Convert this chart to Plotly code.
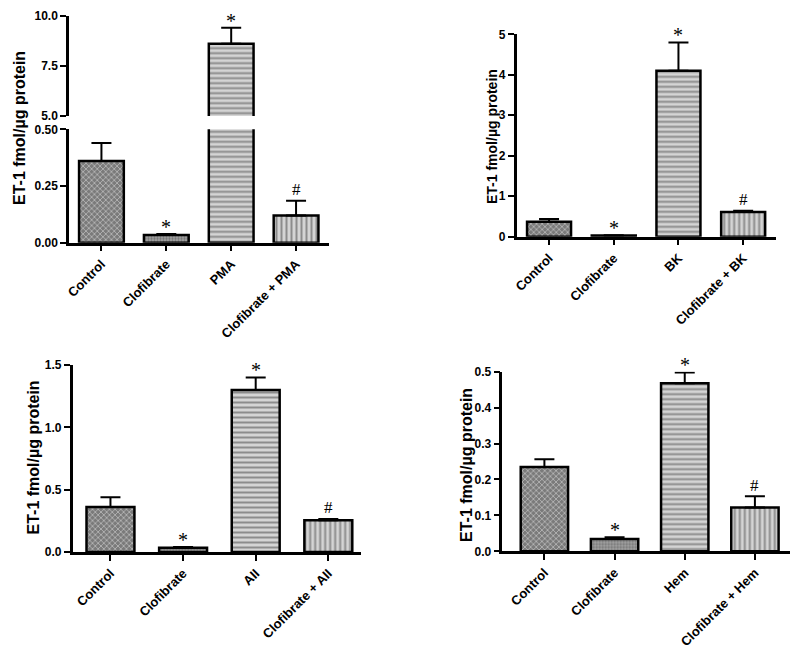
import plotly.graph_objects as go

W, H = 799, 653

# ---------------- data ----------------
cat_pma = ["Control", "Clofibrate", "PMA", "Clofibrate + PMA"]
val_pma = [0.36, 0.034, 8.6, 0.12]
err_pma = [0.08, 0.004, 0.8, 0.065]
sig_pma = ["", "*", "*", "#"]

cat_bk = ["Control", "Clofibrate", "BK", "Clofibrate + BK"]
val_bk = [0.37, 0.03, 4.1, 0.61]
err_bk = [0.07, 0.005, 0.7, 0.03]
sig_bk = ["", "*", "*", "#"]

cat_aii = ["Control", "Clofibrate", "AII", "Clofibrate + AII"]
val_aii = [0.36, 0.035, 1.30, 0.254]
err_aii = [0.08, 0.005, 0.10, 0.011]
sig_aii = ["", "*", "*", "#"]

cat_hem = ["Control", "Clofibrate", "Hem", "Clofibrate + Hem"]
val_hem = [0.235, 0.034, 0.468, 0.122]
err_hem = [0.021, 0.005, 0.030, 0.031]
sig_hem = ["", "*", "*", "#"]

ytitle = "ET-1 fmol/µg protein"

# ---------------- styles ----------------
pat_shape = ["x", ".", "-", "|"]
pat_bg = ["#7a7a7a", "#a4a4a4", "#d4d4d4", "#d4d4d4"]
pat_fg = ["#5e5e5e", "#6a6a6a", "#b4b4b4", "#b4b4b4"]
pat_size = [4, 3, 5, 5]
pat_sol = [0.35, 0.45, 0.4, 0.4]

FONT = "Liberation Sans"


def px_x(p):
    return p / W


def px_y(p):
    return 1 - p / H


fig = go.Figure()


def add_bars(cats, vals, errs, xa, ya, width):
    fig.add_trace(go.Bar(
        x=cats, y=vals, xaxis=xa, yaxis=ya, width=width,
        marker=dict(
            color=pat_bg,
            line=dict(color="black", width=2.5),
            pattern=dict(shape=pat_shape, fgcolor=pat_fg,
                         size=pat_size, solidity=pat_sol, fillmode="overlay"),
        ),
        error_y=dict(type="data", symmetric=False, array=errs,
                     arrayminus=[0] * len(errs), color="black",
                     thickness=2, width=10),
        showlegend=False, hoverinfo="skip",
    ))


def add_sigs(cats, vals, errs, sigs, xa, ya, only=None):
    for i, (c, v, e, s) in enumerate(zip(cats, vals, errs, sigs)):
        if not s:
            continue
        if only is not None and i not in only:
            continue
        star = s == "*"
        fig.add_annotation(
            x=c, y=v + e, xref=xa, yref=ya, text=s, showarrow=False,
            yanchor="middle", yshift=7 if star else 11,
            font=dict(family="Liberation Serif", size=20 if star else 17,
                      color="black"),
        )


# Panel A (broken axis): bottom y, top y2 share x
add_bars(cat_pma, val_pma, err_pma, "x", "y", 0.69)
add_bars(cat_pma, val_pma, err_pma, "x", "y2", 0.69)
add_sigs(cat_pma, val_pma, err_pma, sig_pma, "x", "y", only=[1, 3])
add_sigs(cat_pma, val_pma, err_pma, sig_pma, "x", "y2", only=[2])

# Panel B
add_bars(cat_bk, val_bk, err_bk, "x2", "y3", 0.68)
add_sigs(cat_bk, val_bk, err_bk, sig_bk, "x2", "y3")

# Panel C
add_bars(cat_aii, val_aii, err_aii, "x3", "y4", 0.66)
add_sigs(cat_aii, val_aii, err_aii, sig_aii, "x3", "y4")

# Panel D
add_bars(cat_hem, val_hem, err_hem, "x4", "y5", 0.675)
add_sigs(cat_hem, val_hem, err_hem, sig_hem, "x4", "y5")

tickf = dict(family=FONT, size=13, color="black", weight="bold")


def xax(dom, anchor, rng):
    return dict(domain=dom, anchor=anchor, range=rng, showline=True,
                linecolor="black", linewidth=2.5, ticks="outside",
                ticklen=6, tickwidth=2, tickcolor="black", tickangle=-45,
                tickfont=tickf, showgrid=False, zeroline=False,
                automargin=False, fixedrange=True)


def yax(dom, anchor, rng, dtick, fmt, size=12):
    return dict(domain=dom, anchor=anchor, range=rng, showline=True,
                linecolor="black", linewidth=2.5, ticks="outside",
                ticklen=6, tickwidth=2, tickcolor="black", dtick=dtick,
                tick0=0, tickformat=fmt, showgrid=False, zeroline=False,
                tickfont=dict(family=FONT, size=size, color="black",
                              weight="bold"),
                automargin=False, fixedrange=True)


fig.update_layout(
    width=W, height=H,
    margin=dict(l=0, r=0, t=0, b=0),
    paper_bgcolor="white", plot_bgcolor="white",
    barmode="group",
    xaxis=xax([px_x(69), px_x(328.5)], "y", [-0.5, 3.5]),
    yaxis=yax([px_y(242.7), px_y(129.3)], "x", [0, 0.5], 0.25, ".2f"),
    yaxis2=yax([px_y(116), px_y(15.7)], "x", [5, 10], 2.5, ".1f"),
    xaxis2=xax([px_x(516.7), px_x(775.5)], "y3", [-0.5, 3.5]),
    yaxis3=yax([px_y(236.7), px_y(34.3)], "x2", [0, 5], 1, "d"),
    xaxis3=xax([px_x(72.7), px_x(361)], "y4", [-0.52, 3.45]),
    yaxis4=yax([px_y(552), px_y(365)], "x3", [0, 1.5], 0.5, ".1f"),
    xaxis4=xax([px_x(502.3), px_x(790)], "y5", [-0.6, 3.5]),
    yaxis5=yax([px_y(551.3), px_y(371.7)], "x4", [0, 0.5], 0.1, ".1f"),
)

# y-axis titles
for cx, cy, sz in [(20, 128, 16), (492, 136, 14), (33, 457.5, 16), (466.5, 464.5, 16)]:
    fig.add_annotation(
        x=px_x(cx), y=px_y(cy), xref="paper", yref="paper", text=ytitle,
        textangle=-90, showarrow=False, xanchor="center", yanchor="middle",
        font=dict(family=FONT, size=sz, color="black", weight="bold"),
    )

fig.write_html(
    "out.html",
    config={"displayModeBar": False},
    post_script="document.body.style.margin='0';document.body.style.overflow='hidden';",
)
